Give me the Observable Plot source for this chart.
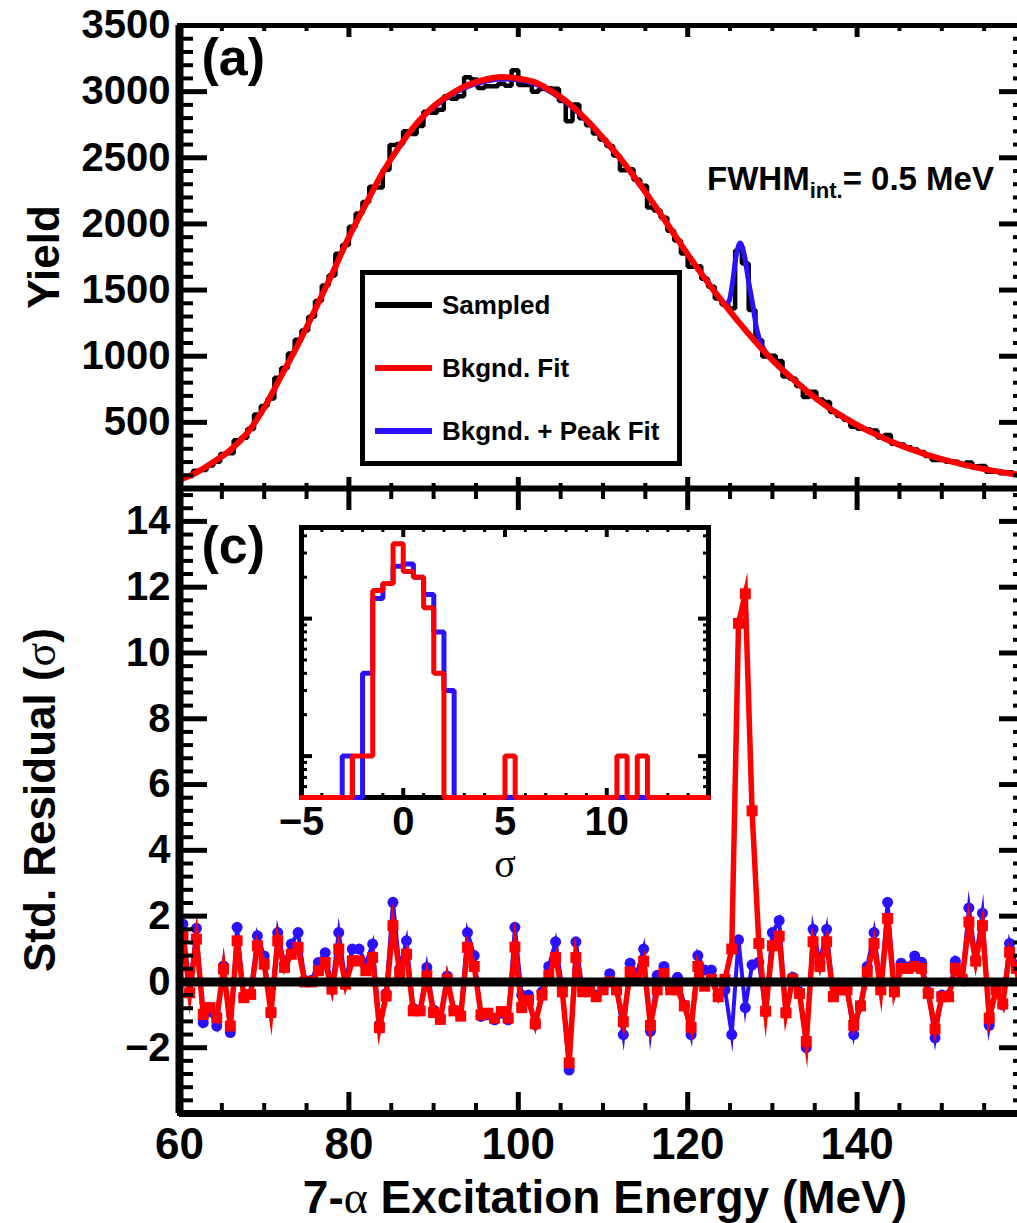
<!DOCTYPE html>
<html>
<head>
<meta charset="utf-8">
<script src="https://cdn.jsdelivr.net/npm/d3@7"></script>
<script src="https://cdn.jsdelivr.net/npm/@observablehq/plot@0.6"></script>
<style>
  html, body { margin: 0; padding: 0; background: #fff; overflow: hidden; }
  #chart { position: relative; width: 1017px; height: 1223px; overflow: hidden; background: #fff; }
  #chart > svg { position: absolute; left: 0; top: 0; }
</style>
</head>
<body>
<div id="chart"></div>
<script>
// ================= DATA =================
// Binning of the sampled 7-alpha excitation-energy spectrum (MeV)
const energyStart = 60;
const energyBinWidth = 0.8;

// Sampled yield per bin (black histogram)
const sampledYield = [
  88, 95, 134, 140, 173, 202, 260, 267, 365, 384,
  450, 559, 623, 681, 837, 911, 1020, 1125, 1194, 1298,
  1417, 1535, 1611, 1774, 1841, 1978, 2079, 2166, 2281, 2275,
  2409, 2596, 2604, 2701, 2680, 2740, 2848, 2840, 2864, 2966,
  2946, 2965, 3108, 3092, 3027, 3041, 3041, 3060, 3045, 3161,
  3051, 3051, 3000, 3020, 3025, 3022, 2930, 2777, 2902, 2798,
  2746, 2683, 2638, 2590, 2518, 2406, 2413, 2334, 2288, 2124,
  2101, 2047, 1949, 1874, 1777, 1677, 1681, 1585, 1525, 1437,
  1391, 1360, 1800, 1700, 1350, 1120, 998, 1004, 964, 846,
  830, 774, 691, 732, 672, 653, 578, 549, 520, 466,
  451, 447, 439, 386, 404, 339, 332, 312, 295, 276,
  246, 215, 215, 202, 202, 185, 196, 168, 171, 127,
  128, 115, 123, 110, 92
];

// Standardised residuals vs background-only fit (red squares)
const residBkg = [
  1.40, -0.33, 1.30, -0.99, -0.78, -1.09, 0.39, -1.34, 1.25, -0.48,
  -0.38, 1.10, 0.54, -0.93, 1.25, 0.44, 0.84, 1.05, 0.00, 0.00,
  0.34, 0.59, -0.22, 1.00, -0.07, 0.64, 0.64, 0.34, 0.74, -1.39,
  -0.43, 1.71, 0.28, 0.84, -0.88, -0.88, 0.18, -0.93, -1.14, 0.08,
  -0.88, -1.04, 1.05, 0.47, -1.00, -0.95, -1.10, -0.90, -1.10, 1.06,
  -0.78, -0.56, -1.27, -0.40, 0.20, 0.74, -0.30, -2.46, 0.74, -0.30,
  -0.30, -0.45, -0.24, 0.00, -0.24, -1.21, 0.30, 0.08, 0.63, -1.32,
  -0.24, 0.25, -0.24, -0.24, -0.73, -1.38, 0.47, -0.13, 0.08, -0.45,
  0.08, 1.00, 10.9, 11.8, 5.2, 1.17, -0.89, 1.10, 1.39, -0.94,
  0.08, -0.35, -1.81, 1.22, 0.47, 1.22, -0.45, -0.24, -0.24, -1.32,
  -0.73, 0.30, 1.17, -0.24, 1.93, -0.30, 0.41, 0.41, 0.47, 0.41,
  -0.35, -1.43, -0.45, -0.45, 0.41, 0.08, 1.82, 0.63, 1.71, -1.10,
  -0.24, -0.67, 0.90, 0.41, -0.67
];

// Standardised residuals vs background + peak fit (blue circles)
const residPeak = [
  1.76, -0.30, 1.63, -1.24, -0.90, -1.34, 0.49, -1.54, 1.66, -0.45,
  -0.35, 1.40, 0.79, -0.90, 1.50, 0.55, 1.15, 1.50, 0.05, 0.05,
  0.59, 0.89, -0.15, 1.50, 0.00, 1.00, 1.00, 0.55, 1.15, -1.30,
  -0.35, 2.42, 0.40, 1.25, -0.80, -0.85, 0.44, -0.85, -1.10, 0.18,
  -0.85, -1.00, 1.50, 0.80, -1.05, -1.00, -1.15, -0.95, -1.15, 1.66,
  -0.40, -0.40, -1.30, -0.30, 0.47, 1.22, -0.20, -2.68, 1.22, -0.25,
  -0.25, -0.40, -0.20, 0.25, -0.20, -1.60, 0.57, 0.25, 1.00, -1.50,
  0.20, 0.47, -0.20, 0.14, -0.70, -1.60, 0.80, 0.36, 0.36, -0.40,
  -0.24, -1.60, 1.28, -0.78, 0.52, 0.60, -0.90, 1.50, 1.87, -0.90,
  0.14, -0.30, -2.00, 1.60, 0.60, 1.60, -0.40, -0.20, -0.20, -1.60,
  -0.70, 0.47, 1.50, -0.20, 2.42, -0.25, 0.57, 0.45, 0.79, 0.60,
  -0.30, -1.70, -0.40, -0.40, 0.63, 0.10, 2.25, 0.70, 2.09, -1.32,
  -0.20, -0.70, 1.17, 0.50, -0.70
];

// Background fit curve (red), read every 2 MeV
const bkgFitEnergy = [60,62,64,66,68,70,72,74,76,78,80,82,84,86,88,90,92,94,96,98,100,102,104,106,108,110,112,114,116,118,120,122,124,126,128,130,132,134,136,138,140,142,144,146,148,150,152,154,156,158,160];
const bkgFit = [65,120,200,290,420,610,850,1090,1350,1620,1900,2150,2390,2590,2760,2890,2980,3050,3090,3110,3100,3070,3000,2910,2790,2650,2500,2330,2150,1960,1770,1590,1420,1260,1110,970,850,740,640,555,480,415,355,305,260,222,190,160,135,113,95];

// Background + peak fit curve (blue)
const peakFitEnergy = [60,62,64,66,68,70,72,74,76,78,80,82,84,86,88,90,92,94,96,98,100,102,104,106,108,110,112,114,116,118,120,122,124,124.4,124.9,125.3,125.7,126.2,126.7,127.2,127.6,128.2,128.8,129.6,132,134,136,138,140,142,144,146,148,150,152,154,156,158,160];
const peakFit = [65,120,200,290,420,610,850,1090,1350,1620,1900,2150,2390,2590,2755,2882,2970,3038,3076,3096,3088,3058,2990,2900,2782,2643,2495,2327,2148,1959,1770,1590,1420,1392,1420,1560,1750,1855,1760,1560,1420,1190,1075,1000,850,740,640,555,480,415,355,305,260,222,190,160,135,113,95];

// Inset: distribution of the standardised residuals (bins of 0.5 sigma from -5)
const sigmaStart = -5;
const sigmaBinWidth = 0.5;
const sigmaCountsBkg  = [0,0,0,0,0, 1,1,16,18,35, 22,20,12,4,0, 0,0,0,0,0, 1,0,0,0,0, 0,0,0,0,0, 0,1,0,1,0, 0,0,0,0,0];
const sigmaCountsPeak = [0,0,0,0,1, 0,4,14,18,24, 25,20,15,8,3, 0,0,0,0,0, 0,0,0,0,0, 0,0,0,0,0, 0,0,0,0,0, 0,0,0,0,0];

// Tick values
const energyMajorTicks = [60, 80, 100, 120, 140, 160];
const energyLabelTicks = [60, 80, 100, 120, 140];
const energyMinorTicks = [65,70,75,85,90,95,105,110,115,125,130,135,145,150,155];
const yieldMajorTicks = [0, 500, 1000, 1500, 2000, 2500, 3000, 3500];
const yieldLabelTicks = [500, 1000, 1500, 2000, 2500, 3000, 3500];
const yieldMinorTicks = [100,200,300,400,600,700,800,900,1100,1200,1300,1400,1600,1700,1800,1900,2100,2200,2300,2400,2600,2700,2800,2900,3100,3200,3300,3400];
const residMajorTicks = [-4, -2, 0, 2, 4, 6, 8, 10, 12, 14];
const residLabelTicks = [-2, 0, 2, 4, 6, 8, 10, 12, 14];
const residMinorTicks = [-3.6,-3.2,-2.8,-2.4,-1.6,-1.2,-0.8,-0.4,0.4,0.8,1.2,1.6,2.4,2.8,3.2,3.6,4.4,4.8,5.2,5.6,6.4,6.8,7.2,7.6,8.4,8.8,9.2,9.6,10.4,10.8,11.2,11.6,12.4,12.8,13.2,13.6,14.4,14.8];
const sigmaMajorTicks = [-5, 0, 5, 10, 15];
const sigmaLabelTicks = [-5, 0, 5, 10];
const sigmaMinorTicks = [-4,-3,-2,-1,1,2,3,4,6,7,8,9,11,12,13,14];
const countMajorTicks = [1, 10];
const countMinorTicks = [0.6,0.7,0.8,0.9,2,3,4,5,6,7,8,9,20,30,40];

const legendLabels = ["Sampled", "Bkgnd. Fit", "Bkgnd. + Peak Fit"];

// ================= STYLE / LAYOUT =================
const W = 1017, H = 1223;
const FONT = '"Liberation Sans", Arial, Helvetica, sans-serif';
const SERIF = '"Liberation Serif", "DejaVu Serif", serif';
const RED = "#ff0000", BLUE = "#2a12ff", BLACK = "#000000";
const fmt = d => (d < 0 ? "\u2212" : "") + Math.abs(d);
const svgStyle = {background: "transparent", fontFamily: FONT, overflow: "visible", color: "black"};

// Frames (pixels)
const topFrame = {left: 179, right: 1026, top: 25, bottom: 488};
const botFrame = {left: 179, right: 1026, top: 488, bottom: 1113};
const insFrame = {left: 301, right: 708, top: 527, bottom: 797};

// Inward-pointing ticks: use the opposite-side axis shifted across the frame
function inwardTicks(kind, side, values, len, sw, fr) {
  const fw = fr.right - fr.left, fh = fr.bottom - fr.top;
  const common = {ticks: values, tickSize: len, fill: "none", stroke: BLACK, strokeWidth: sw, label: null};
  if (kind === "y") {
    return side === "left"
      ? Plot.axisY({...common, anchor: "right", dx: -fw})
      : Plot.axisY({...common, anchor: "left", dx: fw});
  }
  return side === "bottom"
    ? Plot.axisX({...common, anchor: "top", dy: fh})
    : Plot.axisX({...common, anchor: "bottom", dy: -fh});
}

// ================= DERIVED TABLES =================
const energyEdges = sampledYield.map((_, i) => energyStart + energyBinWidth * i);
const histSteps = sampledYield.map((v, i) => ({e: energyEdges[i], v}))
  .concat([{e: energyStart + energyBinWidth * sampledYield.length, v: sampledYield[sampledYield.length - 1]}]);
const bkgLine = bkgFitEnergy.map((e, i) => ({e, v: bkgFit[i]}));
const peakLine = peakFitEnergy.map((e, i) => ({e, v: peakFit[i]}));
const resid = residBkg.map((r, i) => ({e: energyStart + energyBinWidth * (i + 0.5), r, b: residPeak[i]}));

const countFloor = 0.5;
function stepTable(counts) {
  const pts = counts.map((c, i) => ({s: sigmaStart + sigmaBinWidth * i, c: Math.max(c, countFloor)}));
  pts.push({s: sigmaStart + sigmaBinWidth * counts.length, c: Math.max(counts[counts.length - 1], countFloor)});
  return pts;
}

// ================= TOP PANEL (a) =================
const topPlot = Plot.plot({
  width: W, height: H,
  marginLeft: topFrame.left, marginRight: W - topFrame.right, marginTop: topFrame.top, marginBottom: H - topFrame.bottom,
  style: svgStyle,
  x: {domain: [60, 160]},
  y: {domain: [0, 3500]},
  marks: [
    Plot.line(histSteps, {x: "e", y: "v", curve: "step-after", stroke: BLACK, strokeWidth: 4.5, strokeLinejoin: "miter"}),
    Plot.line(peakLine, {x: "e", y: "v", curve: "monotone-x", stroke: BLUE, strokeWidth: 5}),
    Plot.line(bkgLine, {x: "e", y: "v", curve: "monotone-x", stroke: RED, strokeWidth: 6}),
    inwardTicks("y", "left", yieldMajorTicks, 27, 5, topFrame),
    inwardTicks("y", "left", yieldMinorTicks, 13, 4, topFrame),
    inwardTicks("y", "right", yieldMajorTicks, 27, 5, topFrame),
    inwardTicks("y", "right", yieldMinorTicks, 13, 4, topFrame),
    inwardTicks("x", "bottom", energyMajorTicks, 12, 5, topFrame),
    inwardTicks("x", "bottom", energyMinorTicks, 6, 4, topFrame),
    inwardTicks("x", "top", energyMajorTicks, 12, 5, topFrame),
    inwardTicks("x", "top", energyMinorTicks, 6, 4, topFrame),
    Plot.axisY({anchor: "left", ticks: yieldLabelTicks, tickSize: 0, tickPadding: 9, tickFormat: fmt,
      fontSize: 40, fontWeight: "bold", label: null, fill: BLACK}),
    Plot.frame({stroke: BLACK, strokeWidth: 5}),
    Plot.ruleX([60], {stroke: BLACK, strokeWidth: 8}),
    Plot.ruleY([0], {stroke: BLACK, strokeWidth: 6}),
    Plot.text(["(a)"], {text: d => d, frameAnchor: "top-left", dx: 22, dy: 49, lineAnchor: "bottom",
      textAnchor: "start", fontSize: 52, fontWeight: "bold", fill: BLACK}),
    Plot.text(["Yield"], {text: d => d, frameAnchor: "left", dx: -121, rotate: -90, lineAnchor: "bottom",
      textAnchor: "middle", fontSize: 44, fontWeight: "bold", fill: BLACK})
  ]
});

// ================= BOTTOM PANEL (c) =================
const botPlot = Plot.plot({
  width: W, height: H,
  marginLeft: botFrame.left, marginRight: W - botFrame.right, marginTop: botFrame.top, marginBottom: H - botFrame.bottom,
  style: svgStyle,
  x: {domain: [60, 160]},
  y: {domain: [-4, 15]},
  marks: [
    Plot.line(resid, {x: "e", y: "b", stroke: BLUE, strokeWidth: 4, strokeLinejoin: "miter", strokeMiterlimit: 10}),
    Plot.dot(resid, {x: "e", y: "b", r: 5.5, fill: BLUE}),
    Plot.line(resid, {x: "e", y: "r", stroke: RED, strokeWidth: 5.5, strokeLinejoin: "miter", strokeMiterlimit: 10}),
    Plot.dot(resid, {x: "e", y: "r", symbol: "square", r: 6.2, fill: RED}),
    Plot.ruleY([0], {stroke: BLACK, strokeWidth: 9}),
    inwardTicks("y", "left", residMajorTicks, 27, 5, botFrame),
    inwardTicks("y", "left", residMinorTicks, 13, 4, botFrame),
    inwardTicks("y", "right", residMajorTicks, 27, 5, botFrame),
    inwardTicks("y", "right", residMinorTicks, 13, 4, botFrame),
    inwardTicks("x", "bottom", energyMajorTicks, 22, 5, botFrame),
    inwardTicks("x", "bottom", energyMinorTicks, 11, 4, botFrame),
    inwardTicks("x", "top", energyMajorTicks, 22, 5, botFrame),
    inwardTicks("x", "top", energyMinorTicks, 11, 4, botFrame),
    Plot.axisY({anchor: "left", ticks: residLabelTicks, tickSize: 0, tickPadding: 9, tickFormat: fmt,
      fontSize: 40, fontWeight: "bold", label: null, fill: BLACK}),
    Plot.axisX({anchor: "bottom", ticks: energyLabelTicks, tickSize: 0, tickPadding: 14, tickFormat: fmt,
      fontSize: 44, fontWeight: "bold", label: null, fill: BLACK}),
    Plot.frame({stroke: BLACK, strokeWidth: 5}),
    Plot.ruleX([60], {stroke: BLACK, strokeWidth: 8}),
    Plot.ruleY([-4], {stroke: BLACK, strokeWidth: 7}),
    Plot.text(["(c)"], {text: d => d, frameAnchor: "top-left", dx: 22, dy: 74, lineAnchor: "bottom",
      textAnchor: "start", fontSize: 52, fontWeight: "bold", fill: BLACK})
  ]
});

// ================= INSET =================
const insetPlot = Plot.plot({
  width: W, height: H,
  marginLeft: insFrame.left, marginRight: W - insFrame.right, marginTop: insFrame.top, marginBottom: H - insFrame.bottom,
  style: svgStyle,
  x: {domain: [-5, 15]},
  y: {type: "log", domain: [countFloor, 46]},
  marks: [
    Plot.frame({fill: "white"}),
    inwardTicks("x", "bottom", sigmaMajorTicks, 10, 4, insFrame),
    inwardTicks("x", "bottom", sigmaMinorTicks, 5, 3, insFrame),
    inwardTicks("x", "top", sigmaMajorTicks, 10, 4, insFrame),
    inwardTicks("x", "top", sigmaMinorTicks, 5, 3, insFrame),
    inwardTicks("y", "left", countMajorTicks, 10, 4, insFrame),
    inwardTicks("y", "left", countMinorTicks, 5, 3, insFrame),
    inwardTicks("y", "right", countMajorTicks, 10, 4, insFrame),
    inwardTicks("y", "right", countMinorTicks, 5, 3, insFrame),
    Plot.frame({stroke: BLACK, strokeWidth: 5}),
    Plot.line(stepTable(sigmaCountsPeak), {x: "s", y: "c", curve: "step-after", stroke: BLUE, strokeWidth: 5, strokeLinejoin: "miter"}),
    Plot.line(stepTable(sigmaCountsBkg), {x: "s", y: "c", curve: "step-after", stroke: RED, strokeWidth: 5, strokeLinejoin: "miter"}),
    Plot.axisX({anchor: "bottom", ticks: sigmaLabelTicks, tickSize: 0, tickPadding: 9, tickFormat: fmt,
      fontSize: 40, fontWeight: "bold", label: null, fill: BLACK}),
    Plot.text(["\u03c3"], {text: d => d, frameAnchor: "bottom", dy: 79, lineAnchor: "bottom",
      textAnchor: "middle", fontSize: 40, fill: BLACK, fontFamily: SERIF})
  ]
});

// ================= LEGEND, TITLES & ANNOTATION =================
const ann = d3.create("svg")
  .attr("width", W).attr("height", H).attr("viewBox", `0 0 ${W} ${H}`)
  .style("font-family", FONT);

ann.append("rect")
  .attr("x", 362.5).attr("y", 272.5).attr("width", 317).attr("height", 191)
  .attr("fill", "white").attr("stroke", BLACK).attr("stroke-width", 5);

const legendColors = [BLACK, RED, BLUE];
legendLabels.forEach((lab, i) => {
  const cy = 305 + i * 63;
  ann.append("line").attr("x1", 375).attr("x2", 432).attr("y1", cy).attr("y2", cy)
    .attr("stroke", legendColors[i]).attr("stroke-width", 6);
  ann.append("text").attr("x", 442).attr("y", cy + 9)
    .attr("font-size", 26).attr("font-weight", "bold").attr("fill", BLACK).text(lab);
});

const fw = ann.append("text").attr("x", 707).attr("y", 190)
  .attr("font-weight", "bold").attr("fill", BLACK).attr("font-size", 33);
fw.append("tspan").text("FWHM");
fw.append("tspan").attr("font-size", 22).attr("dy", 8).text("int.");
fw.append("tspan").attr("dy", -8).text("= 0.5 MeV");

// x-axis title
const xt = ann.append("text").attr("x", 605).attr("y", 1213).attr("text-anchor", "middle")
  .attr("font-size", 46).attr("font-weight", "bold").attr("fill", BLACK);
xt.append("tspan").text("7-");
xt.append("tspan").attr("font-family", SERIF).attr("font-weight", "normal").text("\u03b1");
xt.append("tspan").text(" Excitation Energy (MeV)");

// bottom y-axis title
const yt = ann.append("text").attr("transform", "translate(55, 800) rotate(-90)").attr("text-anchor", "middle")
  .attr("font-size", 44).attr("font-weight", "bold").attr("fill", BLACK);
yt.append("tspan").text("Std. Residual (");
yt.append("tspan").attr("font-family", SERIF).attr("font-weight", "normal").text("\u03c3");
yt.append("tspan").text(")");

const chart = document.getElementById("chart");
chart.append(topPlot, botPlot, insetPlot, ann.node());
</script>
</body>
</html>
